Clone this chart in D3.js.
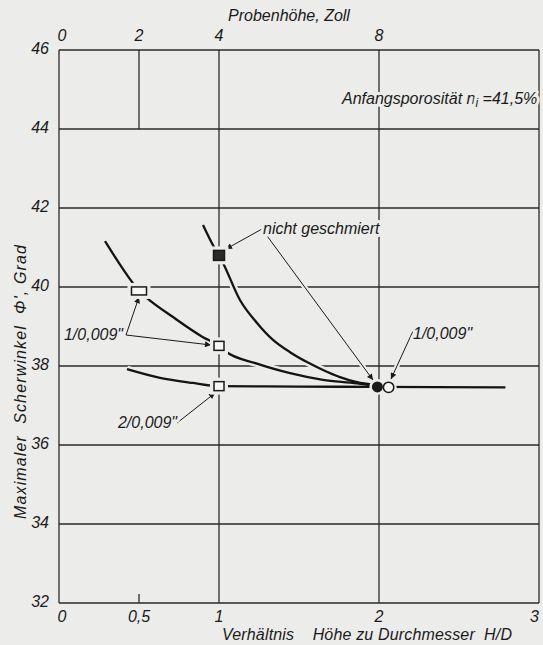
<!DOCTYPE html>
<html><head><meta charset="utf-8">
<script src="https://cdn.jsdelivr.net/npm/d3@7"></script>
<style>
html,body{margin:0;padding:0;background:#ececea;}
text{font-family:"Liberation Sans",Arial,sans-serif;font-style:italic;fill:#1a1a1a;}
</style></head>
<body>
<svg id="c" width="543" height="645"></svg>
<script>
// ---- data ----
const yTicks = [32, 34, 36, 38, 40, 42, 44, 46];
const xTicks = [0, 0.5, 1, 2, 3];
const xTickLabels = ["0", "0,5", "1", "2", "3"];
const topTicks = [0, 2, 4, 8];          // Probenhöhe in Zoll (Durchmesser 4")
const xGrid = [0, 1, 2, 3];
const yGrid = [32, 34, 36, 38, 40, 42, 44, 46];

// curve "nicht geschmiert"
const curveDry = [[0.90,41.57],[0.969,41.01],[1.0,40.80],[1.025,40.61],[1.131,39.67],[1.2375,39.09],[1.3375,38.66],[1.444,38.35],[1.55,38.10],[1.65,37.90],[1.756,37.72],[1.8625,37.59],[1.975,37.52]];
// curve "1/0,009""
const curveOne = [[0.2875,41.16],[0.456,40.13],[0.5,39.90],[0.55,39.72],[0.7125,39.24],[0.9,38.73],[1.0,38.51],[1.0375,38.38],[1.2375,38.06],[1.444,37.82],[1.65,37.65],[1.8625,37.56],[1.975,37.49]];
// curve "2/0,009""
const curveTwo = [[0.425,37.92],[0.631,37.70],[0.8375,37.57],[1.0,37.49],[1.5,37.48],[2.0,37.47],[2.79,37.46]];

// measured points
const dryPoints = [[1.0,40.80]];            // filled squares
const dryCircle = [[1.99,37.47]];           // filled circle
const openCircle = [[2.06,37.46]];          // open circle (1/0,009")
const wideSquares = [[0.5,39.90]];          // open rectangle
const openSquares = [[1.0,38.51],[1.0,37.49]];

// ---- drawing ----
const bg = "#ececea";
const svg = d3.select("#c");
svg.append("rect").attr("width",543).attr("height",645).attr("fill",bg);

const x = d3.scaleLinear().domain([0,3]).range([59,539]);
const y = d3.scaleLinear().domain([32,46]).range([603,50]);
const xTop = d3.scaleLinear().domain([0,12]).range([59,539]);

const grid = svg.append("g").attr("stroke","#2a2a2a").attr("stroke-width",1.3);
grid.selectAll(".h").data(yGrid).join("line")
  .attr("x1",x(0)).attr("x2",x(3)).attr("y1",d=>y(d)).attr("y2",d=>y(d));
grid.selectAll(".v").data(xGrid).join("line")
  .attr("x1",d=>x(d)).attr("x2",d=>x(d)).attr("y1",y(46)).attr("y2",y(32));
// partial line at 0.5 (top) and bottom tick
grid.append("line").attr("x1",x(0.5)).attr("x2",x(0.5)).attr("y1",y(46)).attr("y2",y(44));
grid.append("line").attr("x1",x(0.5)).attr("x2",x(0.5)).attr("y1",y(32)).attr("y2",y(32)-9);

// axes labels
const axL = svg.append("g").attr("font-size",16);
axL.selectAll(".yl").data(yTicks).join("text")
  .attr("x",49).attr("y",d=>y(d)+4).attr("text-anchor","end").text(d=>d);
axL.selectAll(".xl").data(xTicks).join("text")
  .attr("x",(d,i)=> i===0 ? x(d)+3 : x(d)).attr("y",622)
  .attr("text-anchor",(d,i)=> i===4 ? "end" : "middle")
  .text((d,i)=>xTickLabels[i]);
axL.selectAll(".tl").data(topTicks).join("text")
  .attr("x",d=>xTop(d)+(d===0?3:0)).attr("y",41).attr("text-anchor","middle").text(d=>d);

svg.append("text").attr("x",289).attr("y",21).attr("text-anchor","middle").attr("font-size",16)
  .text("Probenhöhe, Zoll");
svg.append("text").attr("x",222).attr("y",640).attr("font-size",16)
  .attr("textLength",290).attr("lengthAdjust","spacing")
  .attr("xml:space","preserve").text("Verhältnis    Höhe zu Durchmesser  H/D");
svg.append("text").attr("transform","translate(26,382) rotate(-90)").attr("text-anchor","middle")
  .attr("font-size",16).attr("textLength",274).attr("lengthAdjust","spacing")
  .attr("xml:space","preserve").text("Maximaler  Scherwinkel  Φ', Grad");

// curves with halos
const line = d3.line().x(d=>x(d[0])).y(d=>y(d[1])).curve(d3.curveMonotoneX);
const curves = [curveDry, curveOne, curveTwo];
svg.append("g").selectAll("path").data(curves).join("path")
  .attr("d",line).attr("fill","none").attr("stroke",bg).attr("stroke-width",7);
svg.append("g").selectAll("path").data(curves).join("path")
  .attr("d",line).attr("fill","none").attr("stroke","#141414").attr("stroke-width",2.3);

// arrows
const defs = svg.append("defs");
defs.append("marker").attr("id","ah").attr("viewBox","0 0 10 10").attr("refX",10).attr("refY",5)
  .attr("markerWidth",9).attr("markerHeight",6).attr("markerUnits","userSpaceOnUse").attr("orient","auto")
  .append("path").attr("d","M0,0L10,5L0,10z").attr("fill","#1a1a1a");
const arrows = [
  [[262,229],[226,249]],
  [[262,229],[373,380]],
  [[126,335],[139,297]],
  [[126,335],[211,345]],
  [[177,423],[215,393]],
  [[413,331],[391,379]]
];
svg.append("g").selectAll("line").data(arrows).join("line")
  .attr("x1",d=>d[0][0]).attr("y1",d=>d[0][1]).attr("x2",d=>d[1][0]).attr("y2",d=>d[1][1])
  .attr("stroke",bg).attr("stroke-width",5);
svg.append("g").selectAll("line").data(arrows).join("line")
  .attr("x1",d=>d[0][0]).attr("y1",d=>d[0][1]).attr("x2",d=>d[1][0]).attr("y2",d=>d[1][1])
  .attr("stroke","#1a1a1a").attr("stroke-width",1).attr("marker-end","url(#ah)");

// markers
const mk = svg.append("g");
function rects(data, w, h, fill){
  mk.selectAll(null).data(data).join("rect")
    .attr("x",d=>x(d[0])-w/2-4).attr("y",d=>y(d[1])-h/2-4).attr("width",w+8).attr("height",h+8).attr("fill",bg);
  mk.selectAll(null).data(data).join("rect")
    .attr("x",d=>x(d[0])-w/2).attr("y",d=>y(d[1])-h/2).attr("width",w).attr("height",h)
    .attr("fill",fill).attr("stroke","#1a1a1a").attr("stroke-width",1.5);
}
rects(wideSquares,15,8,"#f7f7f5");
rects(openSquares,10,9,"#f7f7f5");
rects(dryPoints,11,10,"#2a2a2a");
function circles(data){
  mk.selectAll(null).data(data).join("circle")
    .attr("cx",d=>x(d[0])).attr("cy",d=>y(d[1])).attr("r",8).attr("fill",bg);
}
circles(dryCircle); circles(openCircle);
mk.selectAll(null).data(dryCircle).join("circle")
  .attr("cx",d=>x(d[0])).attr("cy",d=>y(d[1])).attr("r",5.5).attr("fill","#1a1a1a");
mk.selectAll(null).data(openCircle).join("circle")
  .attr("cx",d=>x(d[0])).attr("cy",d=>y(d[1])).attr("r",5.2).attr("fill","#f7f7f5")
  .attr("stroke","#1a1a1a").attr("stroke-width",1.5);

// annotation texts (with background halo)
const ann = svg.append("g").attr("font-size",16).attr("stroke",bg).attr("stroke-width",6)
  .attr("paint-order","stroke").attr("stroke-linejoin","round");
ann.append("text").attr("x",263).attr("y",234).text("nicht  geschmiert");
ann.append("text").attr("x",123).attr("y",340).attr("text-anchor","end").text("1/0,009\"");
ann.append("text").attr("x",177).attr("y",428).attr("text-anchor","end").text("2/0,009\"");
ann.append("text").attr("x",413).attr("y",339).text("1/0,009\"");
const an = ann.append("text").attr("x",342).attr("y",104);
an.append("tspan").text("Anfangsporosität  n");
an.append("tspan").attr("font-size",12).attr("dy",3).text("i");
an.append("tspan").attr("dy",-3).text(" =41,5%");
</script>
</body></html>
